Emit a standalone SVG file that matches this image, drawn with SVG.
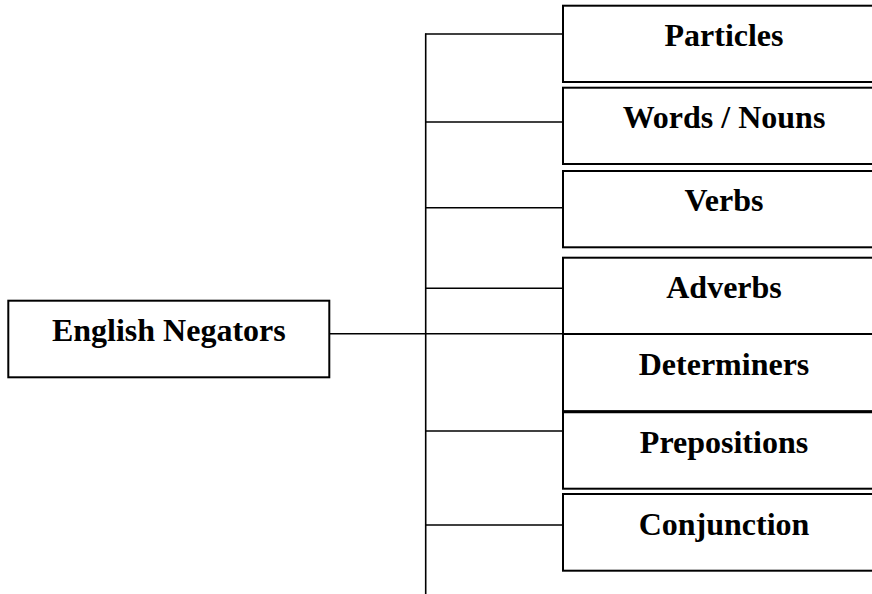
<svg xmlns="http://www.w3.org/2000/svg" width="872" height="594" viewBox="0 0 872 594">
<style>
.box{fill:#fff;stroke:#000;stroke-width:2}
.lbl{font-family:"Liberation Serif","Times New Roman",serif;font-weight:bold;font-size:32px;fill:#000;text-anchor:middle}
.con{stroke:#000;stroke-width:1.6;fill:none}
</style>
<rect width="872" height="594" fill="#fff"/>
<g id="connectors">
<line class="con" x1="425.7" y1="33.5" x2="425.7" y2="594"/>
<line class="con" x1="425" y1="34" x2="563" y2="34"/>
<line class="con" x1="425" y1="122" x2="563" y2="122"/>
<line class="con" x1="425" y1="207.7" x2="563" y2="207.7"/>
<line class="con" x1="425" y1="288.3" x2="563" y2="288.3"/>
<line class="con" x1="329.3" y1="333.7" x2="563" y2="333.7"/>
<line class="con" x1="425" y1="431" x2="563" y2="431"/>
<line class="con" x1="425" y1="525" x2="563" y2="525"/>
</g>
<g id="root">
<rect class="box" x="8.3" y="300.7" width="321" height="76.6"/>
<text class="lbl" x="168.8" y="340.7">English Negators</text>
</g>
<g id="particles">
<rect class="box" x="563" y="5.7" width="322" height="76.3"/>
<text class="lbl" x="724" y="45.7">Particles</text>
</g>
<g id="words">
<rect class="box" x="563" y="87.7" width="322" height="76.3"/>
<text class="lbl" x="724" y="128.3">Words / Nouns</text>
</g>
<g id="verbs">
<rect class="box" x="563" y="171" width="322" height="76.3"/>
<text class="lbl" x="724" y="211">Verbs</text>
</g>
<g id="adverbs">
<rect class="box" x="563" y="257.7" width="322" height="76.3"/>
<text class="lbl" x="724" y="297.7">Adverbs</text>
</g>
<g id="determiners">
<rect class="box" x="563" y="334" width="322" height="77.7"/>
<text class="lbl" x="724" y="375">Determiners</text>
</g>
<g id="prepositions">
<rect class="box" x="563" y="411.7" width="322" height="77"/>
<line x1="563" y1="411.7" x2="885" y2="411.7" stroke="#000" stroke-width="3"/>
<text class="lbl" x="724" y="452.7">Prepositions</text>
</g>
<g id="conjunction">
<rect class="box" x="563" y="494" width="322" height="76.7"/>
<text class="lbl" x="724" y="535">Conjunction</text>
</g>
</svg>
